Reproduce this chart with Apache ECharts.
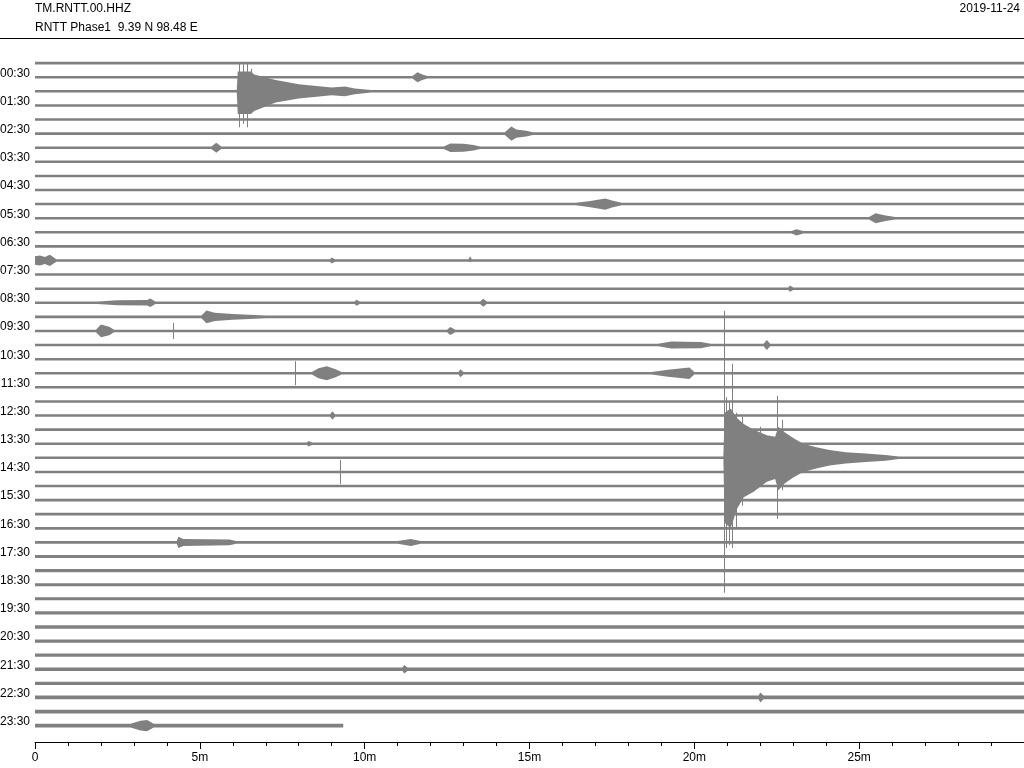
<!DOCTYPE html>
<html>
<head>
<meta charset="utf-8">
<script src="https://cdn.jsdelivr.net/npm/echarts@6/dist/echarts.min.js"></script>
<style>
  html, body { margin: 0; padding: 0; background: #fff; }
  #main { width: 1024px; height: 768px; }
</style>
</head>
<body>
<div id="main"></div>
<script>
// 48 traces of 30 minutes each, labelled every hour
const hourLabels = ["00:30", "01:30", "02:30", "03:30", "04:30", "05:30", "06:30", "07:30",
  "08:30", "09:30", "10:30", "11:30", "12:30", "13:30", "14:30", "15:30", "16:30", "17:30",
  "18:30", "19:30", "20:30", "21:30", "22:30", "23:30"];

// background noise half-width per trace (in trace-spacing units)
const noiseLevel = [
  0.09, 0.09, 0.09, 0.09, 0.09, 0.09, 0.09, 0.09, 0.09, 0.09,
  0.09, 0.09, 0.09, 0.09, 0.09, 0.09, 0.09, 0.09, 0.09, 0.09,
  0.09, 0.09, 0.09, 0.09, 0.09, 0.09, 0.09, 0.09, 0.09, 0.09,
  0.09, 0.10, 0.10, 0.10, 0.10, 0.10, 0.11, 0.11, 0.11, 0.11,
  0.12, 0.12, 0.12, 0.12, 0.12, 0.13, 0.13, 0.13
];

// minute where each trace stops (last one is incomplete)
const traceEnd = [
  30, 30, 30, 30, 30, 30, 30, 30, 30, 30, 30, 30, 30, 30, 30, 30,
  30, 30, 30, 30, 30, 30, 30, 30, 30, 30, 30, 30, 30, 30, 30, 30,
  30, 30, 30, 30, 30, 30, 30, 30, 30, 30, 30, 30, 30, 30, 30, 9.35
];

// envelope keypoints of events: [trace, [[minute, up, down], ...]]
const events = [
  [1, [[11.45, 0, 0], [11.6, 0.35, 0.35], [11.75, 0.2, 0.2], [11.9, 0, 0]]],
  [2, [[6.12, 0, 0], [6.15, 1.4, 1.6], [6.55, 1.4, 1.6], [6.65, 1.2, 1.4], [7.3, 0.8, 0.8],
       [8.0, 0.5, 0.5], [9.0, 0.28, 0.28], [9.4, 0.35, 0.35], [9.7, 0.2, 0.2], [10.2, 0, 0]]],
  [5, [[14.25, 0, 0], [14.45, 0.5, 0.5], [14.6, 0.3, 0.3], [14.9, 0.2, 0.2], [15.1, 0, 0]]],
  [6, [[5.35, 0, 0], [5.5, 0.35, 0.35], [5.65, 0, 0], [12.4, 0, 0], [12.6, 0.3, 0.3],
       [13.0, 0.28, 0.28], [13.3, 0.2, 0.2], [13.5, 0, 0]]],
  [10, [[16.4, 0, 0], [16.8, 0.2, 0.2], [17.3, 0.4, 0.4], [17.5, 0.25, 0.25], [17.8, 0, 0]]],
  [11, [[25.3, 0, 0], [25.5, 0.35, 0.35], [25.8, 0.2, 0.2], [26.1, 0, 0]]],
  [12, [[22.95, 0, 0], [23.1, 0.22, 0.22], [23.3, 0, 0]]],
  [14, [[0, 0.3, 0.3], [0.15, 0.35, 0.35], [0.3, 0.25, 0.25], [0.45, 0.4, 0.4], [0.65, 0, 0],
        [8.95, 0, 0], [9.0, 0.22, 0.22], [9.1, 0, 0], [13.15, 0, 0], [13.2, 0.3, 0.1], [13.25, 0, 0]]],
  [16, [[22.85, 0, 0], [22.9, 0.22, 0.22], [23.0, 0, 0]]],
  [17, [[1.9, 0, 0], [2.5, 0.18, 0.18], [3.4, 0.2, 0.2], [3.5, 0.3, 0.3], [3.65, 0, 0],
        [9.7, 0, 0], [9.75, 0.22, 0.22], [9.85, 0, 0], [13.5, 0, 0], [13.6, 0.28, 0.28], [13.7, 0, 0]]],
  [18, [[5.05, 0, 0], [5.2, 0.45, 0.45], [5.45, 0.3, 0.3], [6.0, 0.2, 0.2], [7.0, 0, 0]]],
  [19, [[1.85, 0, 0], [2.0, 0.45, 0.45], [2.25, 0.3, 0.3], [2.4, 0, 0],
        [12.5, 0, 0], [12.6, 0.28, 0.28], [12.75, 0, 0]]],
  [20, [[18.9, 0, 0], [19.3, 0.25, 0.25], [20.2, 0.22, 0.22], [20.5, 0, 0],
        [22.1, 0, 0], [22.2, 0.35, 0.35], [22.3, 0, 0]]],
  [22, [[8.4, 0, 0], [8.6, 0.35, 0.35], [8.85, 0.5, 0.5], [9.1, 0.3, 0.3], [9.3, 0, 0],
        [12.85, 0, 0], [12.9, 0.28, 0.28], [13.0, 0, 0],
        [18.7, 0, 0], [19.2, 0.25, 0.25], [19.85, 0.4, 0.4], [20.0, 0, 0]]],
  [25, [[8.95, 0, 0], [9.02, 0.3, 0.3], [9.1, 0, 0]]],
  [27, [[8.25, 0, 0], [8.3, 0.2, 0.2], [8.4, 0, 0]]],
  [28, [[20.88, 0, 0], [20.92, 3.2, 4.6], [21.1, 3.5, 5.0], [21.3, 2.8, 3.6], [21.5, 2.4, 2.8],
        [21.8, 2.0, 2.4], [22.2, 1.6, 1.7], [22.45, 1.5, 1.5], [22.55, 2.2, 2.3], [22.75, 1.8, 1.8],
        [23.0, 1.4, 1.4], [23.3, 1.0, 1.0], [23.7, 0.75, 0.75], [24.1, 0.55, 0.55],
        [24.6, 0.4, 0.4], [25.2, 0.3, 0.3], [25.8, 0.2, 0.2], [26.2, 0, 0]]],
  [34, [[4.3, 0, 0], [4.35, 0.4, 0.4], [4.5, 0.25, 0.25], [5.9, 0.2, 0.2], [6.1, 0, 0],
        [11.0, 0, 0], [11.4, 0.25, 0.25], [11.7, 0, 0]]],
  [43, [[11.15, 0, 0], [11.2, 0.3, 0.3], [11.3, 0, 0]]],
  [45, [[21.95, 0, 0], [22.0, 0.35, 0.35], [22.1, 0, 0]]],
  [47, [[2.9, 0, 0], [3.2, 0.35, 0.35], [3.4, 0.4, 0.4], [3.6, 0, 0]]]
];

// single large swings: [trace, minute, up, down]
const spikes = [
  [2, 6.18, 2.06, 2.55], [2, 6.3, 1.9, 2.3], [2, 6.42, 2.0, 2.55], [2, 6.55, 1.6, 1.4],
  [19, 4.2, 0.57, 0.57], [22, 7.9, 0.85, 0.85], [29, 9.25, 0.85, 0.85],
  [28, 20.9, 10.43, 9.57], [28, 20.95, 4.3, 6.4], [28, 21.05, 4.0, 6.2], [28, 21.15, 6.67, 6.4],
  [28, 21.25, 3.2, 5.0], [28, 21.45, 2.9, 3.4], [28, 22.0, 2.2, 1.7], [28, 22.5, 4.4, 4.33],
  [28, 22.65, 2.7, 2.3]
];

const traceColor = "#808080";
const fontFamily = "'Liberation Sans', Arial, sans-serif";
// traces sit a little below their hour label
const labelOffset = 0.28;

const eventMap = {};
events.forEach(function (e) { eventMap[e[0]] = e[1]; });

const chart = echarts.init(document.getElementById("main"));

chart.setOption({
  animation: false,
  backgroundColor: "#fff",
  grid: { left: 35, right: 0, top: 31, bottom: 26, outerBoundsMode: "none" },
  xAxis: {
    type: "value",
    position: "bottom",
    min: 0,
    max: 30,
    interval: 5,
    axisLine: { onZero: false, lineStyle: { color: "#000", width: 1 } },
    axisTick: { length: 7, lineStyle: { color: "#000" } },
    minorTick: { show: true, splitNumber: 5, length: 4, lineStyle: { color: "#000" } },
    splitLine: { show: false },
    axisLabel: {
      color: "#000",
      fontSize: 12,
      fontFamily: fontFamily,
      margin: 10,
      showMaxLabel: false,
      formatter: function (v) { return v === 0 ? "0" : v + "m"; }
    }
  },
  yAxis: {
    type: "value",
    inverse: true,
    min: -2,
    max: 48.44,
    interval: 1,
    axisLine: { show: false },
    axisTick: { show: false },
    splitLine: { show: false },
    axisLabel: {
      color: "#000",
      fontSize: 12,
      fontFamily: fontFamily,
      margin: 5,
      showMaxLabel: false,
      formatter: function (v) {
        if (v >= 1 && v <= 47 && v % 2 === 1) return hourLabels[(v - 1) / 2];
        return "";
      }
    }
  },
  graphic: [
    { type: "text", left: 35, top: 3, style: { text: "TM.RNTT.00.HHZ", font: "12px " + fontFamily, fill: "#000" } },
    { type: "text", left: 35, top: 22, style: { text: "RNTT Phase1  9.39 N 98.48 E", font: "12px " + fontFamily, fill: "#000" } },
    { type: "text", right: 4, top: 3, style: { text: "2019-11-24", font: "12px " + fontFamily, fill: "#000" } },
    { type: "line", shape: { x1: 0, y1: 38.5, x2: 1024, y2: 38.5 }, style: { stroke: "#000", lineWidth: 1 } }
  ],
  series: [
    {
      type: "custom",
      data: noiseLevel.map(function (n, i) { return [0, i]; }),
      renderItem: function (params, api) {
        const i = params.dataIndex;
        const n = noiseLevel[i];
        const c = i + labelOffset;
        const kps = [[0, 0, 0]].concat(eventMap[i] || []).concat([[traceEnd[i], 0, 0]]);
        const upper = [];
        const lower = [];
        kps.forEach(function (k) {
          if (k[0] > traceEnd[i]) return;
          upper.push(api.coord([k[0], c - Math.max(n, k[1])]));
          lower.push(api.coord([k[0], c + Math.max(n, k[2])]));
        });
        return {
          type: "polygon",
          shape: { points: upper.concat(lower.reverse()) },
          style: { fill: traceColor }
        };
      }
    },
    {
      type: "custom",
      data: spikes.map(function (s) { return [s[1], s[0]]; }),
      renderItem: function (params, api) {
        const s = spikes[params.dataIndex];
        const c = s[0] + labelOffset;
        const p1 = api.coord([s[1], c - s[2]]);
        const p2 = api.coord([s[1], c + s[3]]);
        const x = Math.round(p1[0]) + 0.5;
        return {
          type: "line",
          shape: { x1: x, y1: p1[1], x2: x, y2: p2[1] },
          style: { stroke: traceColor, lineWidth: 1 }
        };
      }
    }
  ]
});
</script>
</body>
</html>
